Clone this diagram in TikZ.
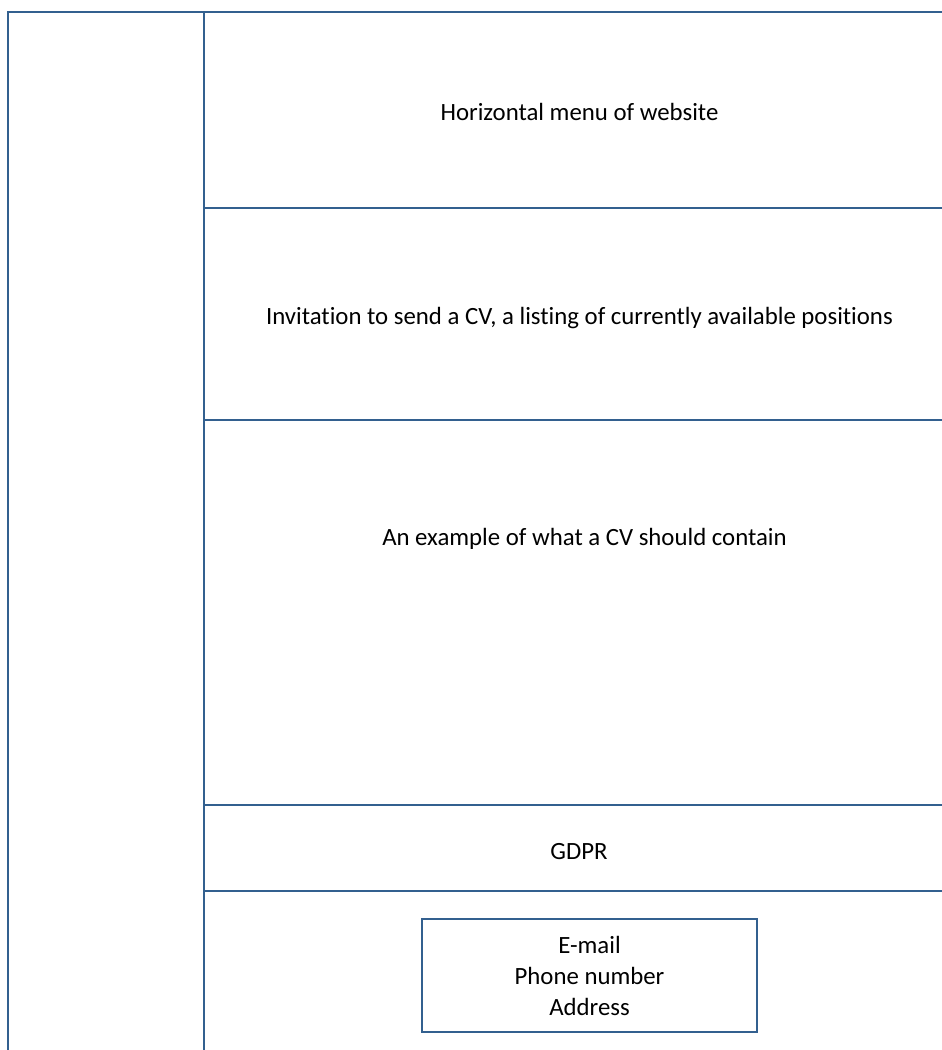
\documentclass[tikz,border=0pt]{standalone}
\usepackage{fontspec}
\setmainfont{Carlito}[Ligatures=NoCommon]
\definecolor{frame}{HTML}{33608F}
\begin{document}
\begin{tikzpicture}[x=1pt,y=-1pt,
  rule/.style={draw=frame,line width=1.8pt},
  label/.style={font=\fontsize{24.8}{31}\selectfont,text=black,align=center,inner sep=0pt},
  contactbox/.style={rule,minimum width=335pt,minimum height=113pt,label}]
  \useasboundingbox (0,0) rectangle (942,1050);
  % page frame: left sidebar and main column
  \draw[rule] (8,1050) -- (8,12) -- (942,12);
  \draw[rule] (204,12) -- (204,1050);
  % row separators in the main column
  \foreach \yy in {208,420,805,891}
    \draw[rule] (204,\yy) -- (942,\yy);
  % row contents
  \node[label] (menu) at (579.5,112) {Horizontal menu of website};
  \node[label] (invite) at (579.5,318.5) {Invitation to send a CV, a listing of currently available positions};
  \node[label] (example) at (584.5,538.5) {An example of what a CV should contain};
  \node[label] (gdpr) at (579,852) {GDPR};
  \node[contactbox] (contact) at (589.5,975.5) {E-mail\\Phone number\\Address};
\end{tikzpicture}
\end{document}
